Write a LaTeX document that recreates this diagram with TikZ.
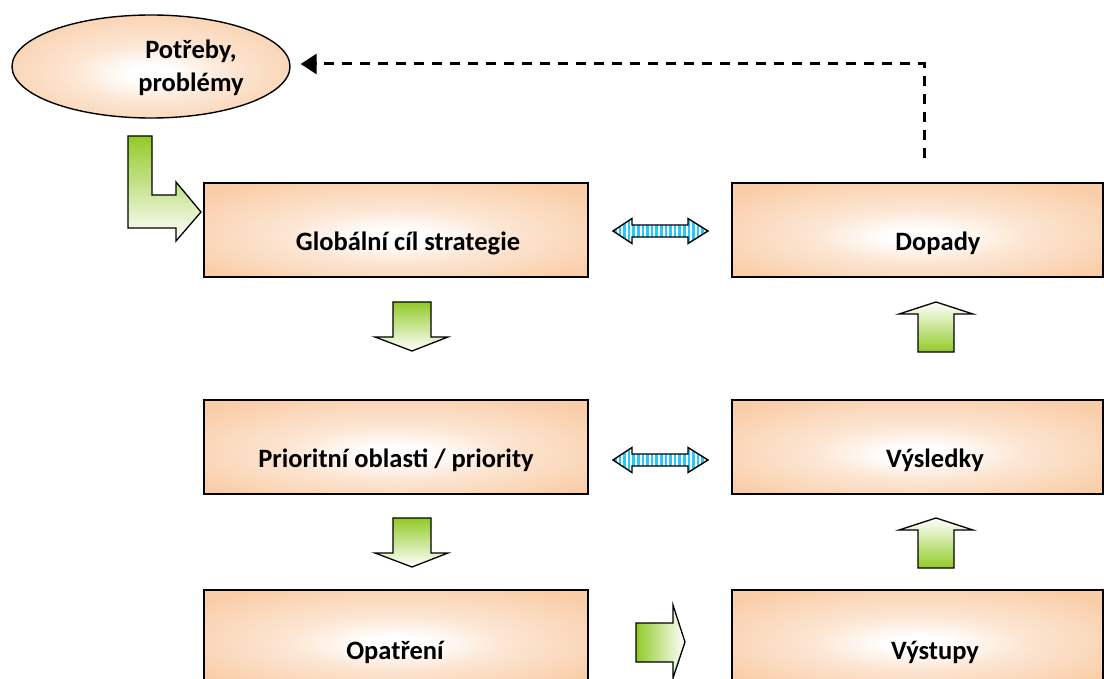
\documentclass[tikz,border=0pt]{standalone}
\usepackage{fontspec}
\setmainfont{Carlito}
\usetikzlibrary{arrows.meta,shapes.geometric,calc}
\definecolor{peach}{RGB}{249,205,168}
\definecolor{lgreen}{RGB}{146,202,40}
\definecolor{stripec}{RGB}{40,200,250}
\pgfdeclareradialshading{boxsh}{\pgfpoint{0bp}{-4bp}}{color(0bp)=(white);color(4bp)=(white);color(14bp)=(peach!50!white);color(32bp)=(peach);color(50bp)=(peach)}
\begin{document}
\begin{tikzpicture}[x=1pt,y=-1pt,
  box/.style={draw=black,line width=1.6pt,minimum width=384pt,minimum height=94pt,inner sep=0pt,shade,shading=boxsh},
  rbox/.style={box,minimum width=371pt},
  lbl/.style={font=\fontsize{26.5}{33}\selectfont\bfseries,inner sep=0pt,align=center},
  blk/.style={draw=black,line width=1.3pt,line join=miter},
  greendown/.style={blk,top color=lgreen,bottom color=white},
  greenup/.style={blk,bottom color=lgreen,top color=white},
  greenright/.style={blk,left color=lgreen,right color=white},
  dbl/.style={draw=black,line width=1.4pt,fill=white,path picture={
     \foreach \k in {0,...,22}
       \fill[stripec] ([xshift=\k*4.6pt+1pt]path picture bounding box.north west) rectangle ([xshift=\k*4.6pt+3.6pt]path picture bounding box.south west);}},
  dline/.style={line width=3pt,dash pattern=on 10pt off 8pt,-{Triangle[length=16pt,width=20pt]}}
]
\useasboundingbox (0,0) rectangle (1104,679);
\clip (0,0) rectangle (1104,679);

% boxes
\node[box] (glob) at (396,230) {};
\node[box] (prio) at (396,447) {};
\node[box] (opat) at (396,637) {};
\node[rbox] (dop)  at (917.5,230) {};
\node[rbox] (vysl) at (917.5,447) {};
\node[rbox] (vyst) at (917.5,637) {};

\node[lbl] (tglob) at (408,243) {Globální cíl strategie};
\node[lbl] (tprio) at (396,460) {Prioritní oblasti / priority};
\node[lbl] (topat) at (395,652) {Opatření};
\node[lbl] (tdop)  at (938,243) {Dopady};
\node[lbl] (tvysl) at (935,460) {Výsledky};
\node[lbl] (tvyst) at (935,652) {Výstupy};

% ellipse
\node[ellipse,draw=black,line width=1.4pt,minimum width=278pt,minimum height=103pt,inner sep=0pt,shade,shading=boxsh] (need) at (151,66.5) {};
\node[lbl] (tneed) at (191,68) {Potřeby,\\problémy};

% dashed feedback connector
\coordinate (ds) at (924,158);
\coordinate (dc) at (924,64);
\draw[dline] (ds) -- (dc) -- ([xshift=10pt]need.east |- dc);

% bent arrow
\path[greendown] (128,136) -- (152,136) -- (152,195) -- (176,195) -- (176,182) -- (201,212) -- (176,241) -- (176,228) -- (128,228) -- cycle;

% down arrows
\foreach \dy in {0,216}{
  \path[greendown] (393,302+\dy) -- (431,302+\dy) -- (431,337+\dy) -- (448,337+\dy) -- (412,351+\dy) -- (375,337+\dy) -- (393,337+\dy) -- cycle;
}
% up arrows
\foreach \dy in {0,216}{
  \path[greenup] (918,352+\dy) -- (954,352+\dy) -- (954,314+\dy) -- (973,314+\dy) -- (936,302+\dy) -- (899,314+\dy) -- (918,314+\dy) -- cycle;
}
% right arrow
\path[greenright] (636,623) -- (673,623) -- (673,605) -- (685,642) -- (673,678) -- (673,662) -- (636,662) -- cycle;

% double arrows
\foreach \yy in {231,460}{
  \path[dbl] (613,\yy) -- (632,\yy-12.5) -- (632,\yy-6) -- (688,\yy-6) -- (688,\yy-12.5) -- (708,\yy) -- (688,\yy+12.5) -- (688,\yy+6) -- (632,\yy+6) -- (632,\yy+12.5) -- cycle;
}
\end{tikzpicture}
\end{document}
